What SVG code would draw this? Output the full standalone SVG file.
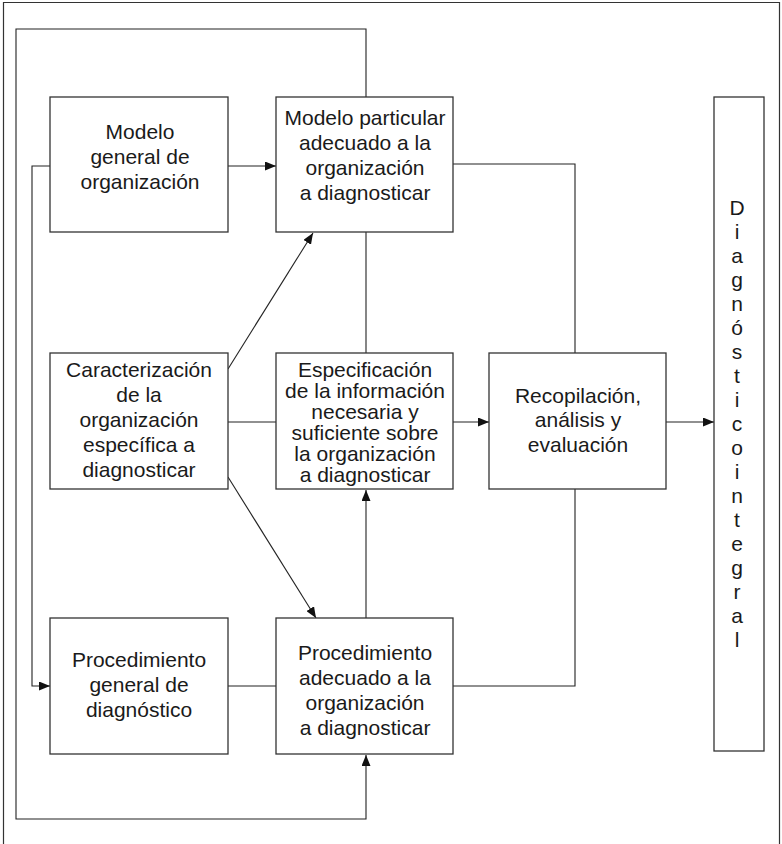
<svg xmlns="http://www.w3.org/2000/svg" width="782" height="844" viewBox="0 0 782 844">
  <style>
    .box { fill: #ffffff; stroke: #333333; stroke-width: 1.3; }
    .frame { fill: none; stroke: #333333; stroke-width: 1.2; }
    .wire { fill: none; stroke: #222222; stroke-width: 1.1; }
    .lbl { font-family: "Liberation Sans", Arial, sans-serif; font-size: 21px; fill: #1a1a1a; text-anchor: middle; }
  </style>
  <defs>
    <marker id="arrow" markerUnits="userSpaceOnUse" markerWidth="11" markerHeight="9" refX="11" refY="4.5" orient="auto">
      <path d="M0,0 L11,4.5 L0,9 z" fill="#111111"/>
    </marker>
  </defs>

  <rect width="782" height="844" fill="#ffffff"/>
  <!-- page frame (open at the bottom) -->
  <path class="frame" d="M3.5,850 V2.5 H779.5 V850"/>

  <g id="connectors">
    <!-- feedback loop from the particular model to the adapted procedure -->
    <path class="wire" d="M366,97 V29 H16 V819 H366 V755" marker-end="url(#arrow)"/>
    <!-- loop from the general model to the general procedure -->
    <path class="wire" d="M50,166 H32 V686 H50" marker-end="url(#arrow)"/>
    <path class="wire" d="M228,166 H276" marker-end="url(#arrow)"/>
    <path class="wire" d="M228,369 L313,233" marker-end="url(#arrow)"/>
    <path class="wire" d="M228,477 L316,618" marker-end="url(#arrow)"/>
    <path class="wire" d="M228,422 H276"/>
    <path class="wire" d="M366,232 V353"/>
    <path class="wire" d="M366,618 V490" marker-end="url(#arrow)"/>
    <path class="wire" d="M453,422 H489" marker-end="url(#arrow)"/>
    <path class="wire" d="M666,422 H714" marker-end="url(#arrow)"/>
    <path class="wire" d="M228,686 H276"/>
    <path class="wire" d="M453,164 H575 V353"/>
    <path class="wire" d="M453,686 H575 V489"/>
  </g>

  <g id="modelo-general">
    <rect class="box" x="50" y="97" width="178" height="135"/>
    <text class="lbl" x="140" y="139">Modelo</text>
    <text class="lbl" x="140" y="164">general de</text>
    <text class="lbl" x="140" y="189">organización</text>
  </g>

  <g id="modelo-particular">
    <rect class="box" x="276" y="97" width="177" height="135"/>
    <text class="lbl" x="365" y="125">Modelo particular</text>
    <text class="lbl" x="365" y="150">adecuado a la</text>
    <text class="lbl" x="365" y="175">organización</text>
    <text class="lbl" x="365" y="200">a diagnosticar</text>
  </g>

  <g id="caracterizacion">
    <rect class="box" x="50" y="353" width="178" height="136"/>
    <text class="lbl" x="139" y="377">Caracterización</text>
    <text class="lbl" x="139" y="402">de la</text>
    <text class="lbl" x="139" y="427">organización</text>
    <text class="lbl" x="139" y="452">específica a</text>
    <text class="lbl" x="139" y="477">diagnosticar</text>
  </g>

  <g id="especificacion">
    <rect class="box" x="276" y="353" width="177" height="136"/>
    <text class="lbl" x="365" y="377">Especificación</text>
    <text class="lbl" x="365" y="398">de la información</text>
    <text class="lbl" x="365" y="419">necesaria y</text>
    <text class="lbl" x="365" y="440">suficiente sobre</text>
    <text class="lbl" x="365" y="461">la organización</text>
    <text class="lbl" x="365" y="482">a diagnosticar</text>
  </g>

  <g id="recopilacion">
    <rect class="box" x="489" y="353" width="177" height="136"/>
    <text class="lbl" x="578" y="403">Recopilación,</text>
    <text class="lbl" x="578" y="427">análisis y</text>
    <text class="lbl" x="578" y="452">evaluación</text>
  </g>

  <g id="procedimiento-general">
    <rect class="box" x="50" y="618" width="178" height="136"/>
    <text class="lbl" x="139" y="667">Procedimiento</text>
    <text class="lbl" x="139" y="692">general de</text>
    <text class="lbl" x="139" y="717">diagnóstico</text>
  </g>

  <g id="procedimiento-adecuado">
    <rect class="box" x="276" y="618" width="177" height="136"/>
    <text class="lbl" x="365" y="660">Procedimiento</text>
    <text class="lbl" x="365" y="685">adecuado a la</text>
    <text class="lbl" x="365" y="710">organización</text>
    <text class="lbl" x="365" y="735">a diagnosticar</text>
  </g>

  <g id="diagnostico-integral">
    <rect class="box" x="714" y="97" width="50" height="654"/>
    <text class="lbl" x="737" y="215">D</text>
    <text class="lbl" x="737" y="239">i</text>
    <text class="lbl" x="737" y="263">a</text>
    <text class="lbl" x="737" y="287">g</text>
    <text class="lbl" x="737" y="311">n</text>
    <text class="lbl" x="737" y="335">ó</text>
    <text class="lbl" x="737" y="359">s</text>
    <text class="lbl" x="737" y="383">t</text>
    <text class="lbl" x="737" y="407">i</text>
    <text class="lbl" x="737" y="431">c</text>
    <text class="lbl" x="737" y="455">o</text>
    <text class="lbl" x="737" y="479">i</text>
    <text class="lbl" x="737" y="503">n</text>
    <text class="lbl" x="737" y="527">t</text>
    <text class="lbl" x="737" y="551">e</text>
    <text class="lbl" x="737" y="575">g</text>
    <text class="lbl" x="737" y="599">r</text>
    <text class="lbl" x="737" y="623">a</text>
    <text class="lbl" x="737" y="647">l</text>
  </g>
</svg>
